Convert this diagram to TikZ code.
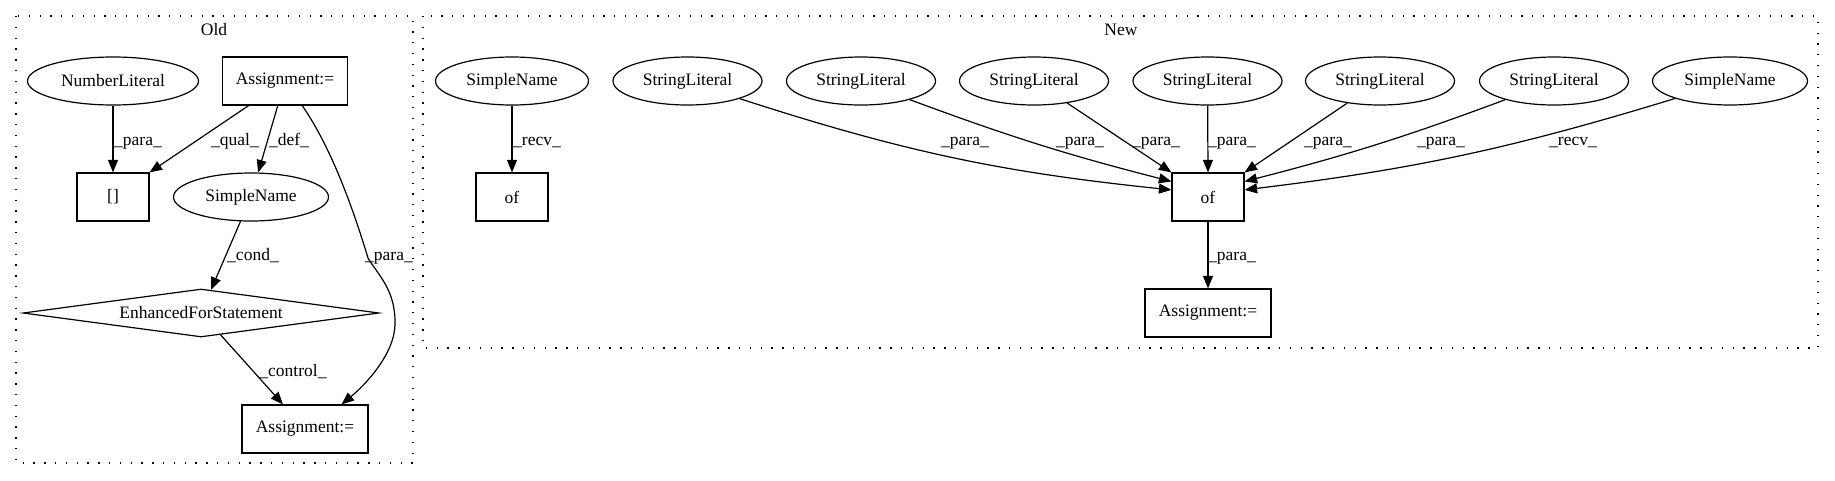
\documentclass[tikz,border=0pt]{standalone}
\usepackage{fontspec}
\setmainfont{Liberation Serif}
\usetikzlibrary{shapes.geometric,arrows.meta}
\tikzset{
  nodebase/.style={font=\fontsize{17.5pt}{21pt}\selectfont, inner sep=0pt, minimum height=48pt, line width=1.2pt},
  ell/.style={nodebase, draw, ellipse},
  box/.style={nodebase, draw, rectangle},
  dia/.style={nodebase, draw, diamond, aspect=7.4, minimum width=356pt},
  lbl/.style={font=\fontsize{17.5pt}{21pt}\selectfont, inner sep=0pt, anchor=base},
  cluster/.style={line width=1.3pt, dash pattern=on 1.3pt off 9.5pt},
  edge/.style={line width=1.2pt, -{Triangle[length=12.5pt,width=10pt]}}
}
\begin{document}
\begin{tikzpicture}[x=1pt,y=-1pt]
\useasboundingbox (0,0) rectangle (1835,480);
% clusters
\draw[cluster] (16,16) rectangle (413,463);
\draw[cluster] (423,16) rectangle (1818,348);
\node[lbl] (oldlbl) at (214,35) {Old};
\node[lbl] (newlbl) at (1121,35) {New};
% Old
\node[ell, minimum width=171pt] (nl) at (113,81) {NumberLiteral};
\node[box, minimum width=125pt] (a1) at (285,81) {Assignment:=};
\node[box, minimum width=72pt] (idx) at (113,197) {[]};
\node[ell, minimum width=155pt] (sn1) at (251,197) {SimpleName};
\node[dia] (efs) at (201,313) {EnhancedForStatement};
\node[box, minimum width=126pt] (a2) at (305,429) {Assignment:=};
\draw[edge] (nl) -- (idx);
\draw[edge] (a1) -- (idx.north east);
\draw[edge] (a1) -- (sn1);
\draw[edge] (sn1) -- (efs);
\draw[edge] (efs) -- (a2);
\draw[edge] (a1.-55) .. controls (333,150) and (355,215) .. (368,258)
  .. controls (378,275) and (396,290) .. (395,325)
  .. controls (394,355) and (365,385) .. (a2.34);
\node[lbl] (l1) at (138,145) {\_para\_};
\node[lbl] (l2) at (235,145) {\_qual\_};
\node[lbl] (l3) at (289,145) {\_def\_};
\node[lbl] (l4) at (253,260) {\_cond\_};
\node[lbl] (l5) at (389,260) {\_para\_};
\node[lbl] (l6) at (293,376) {\_control\_};
% New
\node[ell, minimum width=153pt] (sn2) at (512,81) {SimpleName};
\node[box, minimum width=72pt] (of1) at (512,197) {of};
\node[ell, minimum width=149pt] (sl1) at (687.5,81) {StringLiteral};
\node[ell, minimum width=149pt] (sl2) at (861,81) {StringLiteral};
\node[ell, minimum width=149pt] (sl3) at (1034,81) {StringLiteral};
\node[ell, minimum width=149pt] (sl4) at (1207.5,81) {StringLiteral};
\node[ell, minimum width=149pt] (sl5) at (1380,81) {StringLiteral};
\node[ell, minimum width=149pt] (sl6) at (1554,81) {StringLiteral};
\node[ell, minimum width=155pt] (sn3) at (1730,81) {SimpleName};
\node[box, minimum width=72pt] (of2) at (1208,197) {of};
\node[box, minimum width=126pt] (a3) at (1208,313) {Assignment:=};
\draw[edge] (sn2) -- (of1);
\draw[edge] (sl1) to[bend right=6] (of2.169);
\draw[edge] (sl2) to[bend right=3] (of2.157);
\draw[edge] (sl3) -- (of2.north west);
\draw[edge] (sl4) -- (of2.north);
\draw[edge] (sl5) -- (of2.north east);
\draw[edge] (sl6) to[bend left=3] (of2.23);
\draw[edge] (sn3) to[bend left=5] (of2.11);
\draw[edge] (of2) -- (a3);
\node[lbl] (l7) at (537,145) {\_recv\_};
\node[lbl] (l8) at (965,145) {\_para\_};
\node[lbl] (l9) at (1080,145) {\_para\_};
\node[lbl] (l10) at (1156,145) {\_para\_};
\node[lbl] (l11) at (1232,145) {\_para\_};
\node[lbl] (l12) at (1328,145) {\_para\_};
\node[lbl] (l13) at (1441,145) {\_para\_};
\node[lbl] (l14) at (1573,145) {\_recv\_};
\node[lbl] (l15) at (1232,260) {\_para\_};
\end{tikzpicture}
\end{document}
